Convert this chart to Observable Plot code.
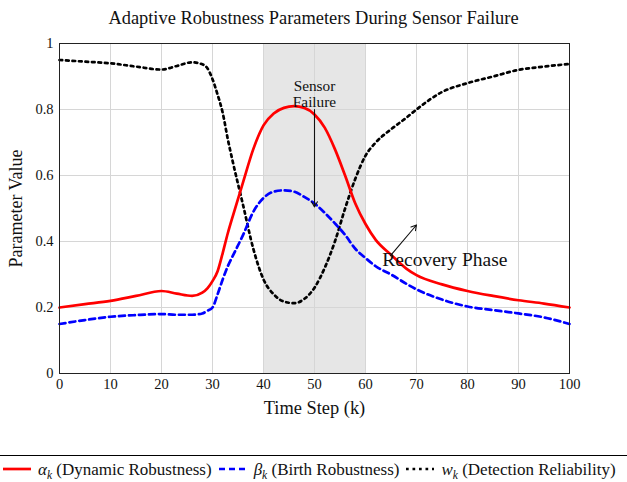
<!DOCTYPE html>
<html>
<head>
<meta charset="utf-8">
<script src="https://cdn.jsdelivr.net/npm/d3@7"></script>
<script src="https://cdn.jsdelivr.net/npm/@observablehq/plot@0.6"></script>
<style>
  body { margin: 0; background: #fff; font-family: "Liberation Serif", serif; }
  #wrap { position: relative; width: 627px; height: 482px; overflow: hidden; }
  #title { position: absolute; top: 7px; left: 0; width: 627px; text-align: center; font-size: 18.4px; line-height: 22px; color: #111; }
  #chart { position: absolute; top: 33px; left: 0; }
  #legend { position: absolute; top: 455px; left: 0; width: 627px; height: 27px; border-top: 1px solid #000;
            display: flex; align-items: center; font-size: 17px; line-height: 21px; color: #111; padding-left: 3px; box-sizing: border-box; white-space: nowrap; }
  .item { display: flex; align-items: center; margin-right: 7px; }
  .item svg { margin-right: 7px; flex: none; }
  .m { font-style: italic; }
  .m sub { font-size: 11.5px; line-height: 0; }
</style>
</head>
<body>
<div id="wrap">
  <div id="title"></div>
  <div id="chart"></div>
  <div id="legend"></div>
</div>
<script>
// ---- data ----
const titleText = "Adaptive Robustness Parameters During Sensor Failure";
const steps = [0,5,10,15,20,23,26,28,29,30,31,32,33,34,36,38,40,42,44,46,48,50,52,54,56,58,60,62,65,68,70,75,80,85,90,95,100];
const alpha = [0.20,0.21,0.22,0.235,0.25,0.242,0.235,0.245,0.258,0.28,0.31,0.365,0.425,0.478,0.58,0.68,0.752,0.788,0.805,0.81,0.805,0.785,0.745,0.68,0.60,0.515,0.453,0.405,0.36,0.318,0.298,0.27,0.25,0.235,0.222,0.212,0.20];
const beta = [0.15,0.162,0.172,0.177,0.18,0.178,0.178,0.182,0.19,0.2,0.24,0.285,0.325,0.357,0.42,0.49,0.532,0.551,0.555,0.551,0.535,0.515,0.487,0.455,0.42,0.378,0.35,0.325,0.30,0.272,0.255,0.224,0.203,0.192,0.182,0.17,0.15];
const reliability = [0.95,0.945,0.94,0.93,0.921,0.932,0.943,0.937,0.925,0.892,0.845,0.79,0.71,0.64,0.51,0.378,0.285,0.24,0.218,0.213,0.226,0.26,0.32,0.40,0.50,0.59,0.66,0.70,0.74,0.775,0.80,0.853,0.88,0.90,0.92,0.93,0.938];
const xTicks = [0,10,20,30,40,50,60,70,80,90,100];
const yTicks = [0,0.2,0.4,0.6,0.8,1];
const yTickLabels = ["0","0.2","0.4","0.6","0.8","1"];
const failureWindow = [40, 60];
const failureNote = {text: "Sensor\nFailure", x: 50, y: 0.847};
const failureArrow = {x1: 50, y1: 0.80, x2: 50, y2: 0.505};
const recoveryNote = {text: "Recovery Phase", x: 63.3, y: 0.345};
const recoveryArrow = {x1: 64.9, y1: 0.357, x2: 70, y2: 0.45};
const xLabel = "Time Step (k)";
const yLabel = "Parameter Value";
const legendItems = [
  {sym: "α", name: "(Dynamic Robustness)", color: "#ff0000", dash: null},
  {sym: "β", name: "(Birth Robustness)", color: "#0000ff", dash: "6,4"},
  {sym: "w", name: "(Detection Reliability)", color: "#000000", dash: "2.7,3.8"}
];

// ---- build ----
document.getElementById("title").textContent = titleText;
const rows = steps.map((k, i) => ({k, alpha: alpha[i], beta: beta[i], w: reliability[i]}));
const font = "Liberation Serif, serif";

const chart = Plot.plot({
  width: 627,
  height: 400,
  marginTop: 10,
  marginBottom: 60,
  marginLeft: 59,
  marginRight: 58,
  style: {fontFamily: font, fontSize: "14.5px", color: "#111", background: "#fff"},
  x: {domain: [0, 100]},
  y: {domain: [0, 1]},
  marks: [
    Plot.rect([failureWindow], {x1: d => d[0], x2: d => d[1], y1: () => 0, y2: () => 1, fill: "#e6e6e6"}),
    Plot.gridX(xTicks, {stroke: "#d6d6d6", strokeOpacity: 1, strokeWidth: 1}),
    Plot.gridY(yTicks, {stroke: "#d6d6d6", strokeOpacity: 1, strokeWidth: 1}),
    Plot.axisX(xTicks, {tickSize: 0, tickPadding: 5, label: null, fontSize: 14.5}),
    Plot.axisY(yTicks, {tickSize: 0, tickPadding: 6, label: null, fontSize: 14.5, tickFormat: d => yTickLabels[yTicks.indexOf(d)]}),
    Plot.line(rows, {x: "k", y: "w", stroke: "#000", strokeWidth: 2.7, strokeDasharray: "2.7,3.8", curve: "monotone-x"}),
    Plot.line(rows, {x: "k", y: "beta", stroke: "#0000ff", strokeWidth: 2.7, strokeDasharray: "6,4", curve: "monotone-x"}),
    Plot.line(rows, {x: "k", y: "alpha", stroke: "#ff0000", strokeWidth: 2.7, curve: "monotone-x"}),
    Plot.frame({stroke: "#222", strokeWidth: 1}),
    Plot.text([failureNote], {x: "x", y: "y", text: "text", fontSize: 15.3, lineHeight: 1.04, fill: "#111"}),
    Plot.arrow([failureArrow], {x1: "x1", y1: "y1", x2: "x2", y2: "y2", stroke: "#111", strokeWidth: 1.1, headLength: 8}),
    Plot.arrow([recoveryArrow], {x1: "x1", y1: "y1", x2: "x2", y2: "y2", stroke: "#111", strokeWidth: 1.1, headLength: 8}),
    Plot.text([recoveryNote], {x: "x", y: "y", text: "text", textAnchor: "start", fontSize: 19.5, fill: "#111"}),
    Plot.text([xLabel], {frameAnchor: "bottom", dy: 35, lineAnchor: "middle", textAnchor: "middle", text: d => d, fontSize: 18.4, fill: "#111"}),
    Plot.text([yLabel], {frameAnchor: "left", dx: -43, rotate: -90, lineAnchor: "middle", textAnchor: "middle", text: d => d, fontSize: 18, fill: "#111"})
  ]
});
document.getElementById("chart").appendChild(chart);

const legend = document.getElementById("legend");
legendItems.forEach(it => {
  const div = document.createElement("div");
  div.className = "item";
  div.innerHTML = `<svg width="28" height="6"><line x1="0" y1="3" x2="28" y2="3" stroke="${it.color}" stroke-width="2.7" ${it.dash ? `stroke-dasharray="${it.dash}"` : ""}/></svg>` +
    `<span><span class="m">${it.sym}<sub>k</sub></span> ${it.name}</span>`;
  legend.appendChild(div);
});
</script>
</body>
</html>
